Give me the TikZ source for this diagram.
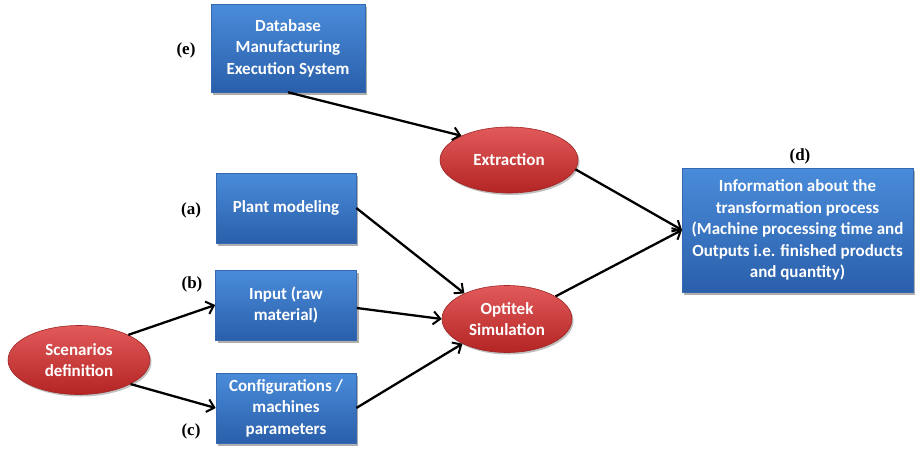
\documentclass[tikz,border=0pt]{standalone}
\usepackage{fontspec}
\setmainfont{Liberation Serif}
\newfontfamily\carl{Carlito}
\usetikzlibrary{shapes.geometric,shadows,arrows.meta}
\definecolor{boxtop}{HTML}{4A8CDA}
\definecolor{boxbot}{HTML}{2A5FAA}
\definecolor{boxedge}{HTML}{3468B0}
\definecolor{elltop}{HTML}{E25A5A}
\definecolor{ellbot}{HTML}{B42424}
\definecolor{elledge}{HTML}{9E2626}
\tikzset{
  bluebox/.style={rectangle, draw=boxedge, line width=0.6pt,
    top color=boxtop, bottom color=boxbot, text=white,
    font=\carl\bfseries\fontsize{17}{21.5}\selectfont, align=center, inner sep=0pt,
    drop shadow={shadow xshift=2pt, shadow yshift=-2.5pt, opacity=0.45, fill=black!70}},
  redell/.style={ellipse, draw=elledge, line width=0.6pt,
    top color=elltop, bottom color=ellbot, text=white,
    font=\carl\bfseries\fontsize{17}{21.5}\selectfont, align=center, inner sep=0pt,
    drop shadow={shadow xshift=1.5pt, shadow yshift=-2pt, opacity=0.35, fill=black!70}},
  lab/.style={font=\bfseries\fontsize{17}{20}\selectfont, text=black},
  conn/.style={line width=2.3pt, -{Straight Barb[length=7pt,width=13pt,line width=2pt]}}
}
\begin{document}
\begin{tikzpicture}[x=1pt,y=1pt]
\path[use as bounding box] (0,0) rectangle (915,-448);

\node[bluebox, minimum width=154pt, minimum height=88pt] (db) at (288,-48) {Database\\Manufacturing\\Execution System};
\node[bluebox, minimum width=140pt, minimum height=70pt] (plant) at (286,-208) {Plant modeling};
\node[bluebox, minimum width=141pt, minimum height=70pt] (input) at (286,-305) {Input (raw\\material)};
\node[bluebox, minimum width=140pt, minimum height=70pt] (conf) at (286,-408) {Configurations /\\machines\\parameters};
\node[bluebox, minimum width=231pt, minimum height=124pt] (info) at (797.5,-230) {Information about the\\transformation process\\(Machine processing time and\\Outputs i.e. finished products\\and quantity)};

\node[redell, minimum width=138pt, minimum height=66pt] (extr) at (509,-160) {Extraction};
\node[redell, minimum width=130pt, minimum height=67pt] (opti) at (507,-319) {Optitek\\Simulation};
\node[redell, minimum width=142pt, minimum height=69pt] (scen) at (79,-360) {Scenarios\\definition};

\node[lab] (le) at (186,-50) {(e)};
\node[lab] (la) at (191,-210) {(a)};
\node[lab] (lb) at (192,-284) {(b)};
\node[lab] (lc) at (191,-431) {(c)};
\node[lab] (ld) at (800,-156) {(d)};

\coordinate (infoin) at (682,-230);
\draw[conn] (db.south) -- (extr.153);
\draw[conn] (extr.-8) -- (infoin);
\draw[conn] (opti.25) -- (infoin);
\draw[conn] (plant.east) -- (opti.149);
\draw[conn] ([yshift=-3pt]input.east) -- (opti.west);
\draw[conn] (conf.east) -- (opti.209);
\draw[conn] (scen.27) -- (input.west);
\draw[conn] (scen.-25) -- (conf.west);
\end{tikzpicture}
\end{document}
